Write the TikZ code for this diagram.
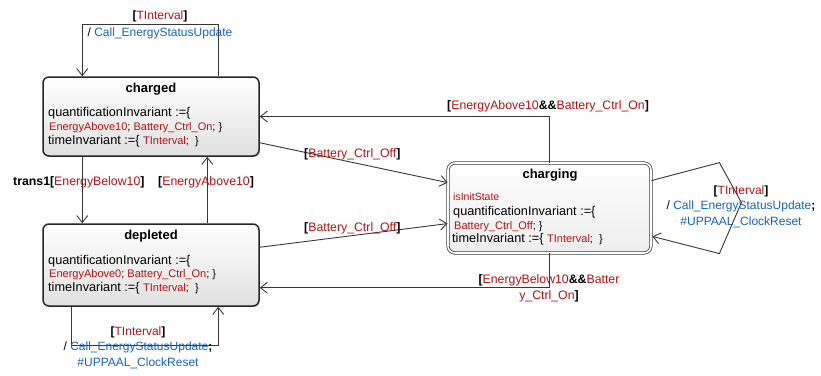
\documentclass[tikz,border=0pt]{standalone}
\usepackage{fontspec}
\setmainfont{Liberation Sans}
\usetikzlibrary{arrows.meta,calc,shadows}
\definecolor{gred}{RGB}{175,20,20}
\definecolor{gblue}{RGB}{25,100,185}
\definecolor{gline}{RGB}{55,55,55}
\newcommand{\rd}[1]{\textcolor{gred}{#1}}
\newcommand{\bl}[1]{\textcolor{gblue}{#1}}
\newcommand{\bb}[1]{\textbf{#1}}
\tikzset{
  statebox/.style={rectangle, rounded corners=6pt, line width=1.5pt, draw=black!85,
    top color=white, bottom color=black!12, inner sep=0pt,
    drop shadow={shadow xshift=1.2pt, shadow yshift=-1.2pt, opacity=0.25}},
  initbox/.style={rectangle, rounded corners=7pt, line width=0.8pt, draw=black!75,
    double=white, double distance=1.6pt, top color=white, bottom color=black!7, inner sep=0pt},
  ttl/.style={font=\fontsize{13}{15}\selectfont\bfseries, inner sep=0pt},
  bodyline/.style={font=\fontsize{12.7}{14}\selectfont, inner sep=0pt, anchor=base west},
  lbl/.style={font=\fontsize{12.3}{15}\selectfont, inner sep=0pt, align=center},
  arr/.style={draw=gline, line width=0.9pt, -{Straight Barb[length=7pt,width=11pt,line width=0.9pt]}},
}
\newcommand{\sm}[1]{{\fontsize{11}{14}\selectfont #1}}
\begin{document}
\begin{tikzpicture}[x=1pt,y=-1pt]
\useasboundingbox (0,0) rectangle (821,375);

% states
\node[statebox, minimum width=216pt, minimum height=79pt] (charged) at (151,116.5) {};
\node[statebox, minimum width=216pt, minimum height=82pt] (depleted) at (151,265) {};
\node[initbox, minimum width=203pt, minimum height=90pt] (charging) at (549.5,208) {};

% charged contents
\node[ttl] (chT) at (151,89) {charged};
\node[bodyline] (ch1) at (48,116) {quantificationInvariant :=\{};
\node[bodyline] (ch2) at (49,130) {\sm{\rd{EnergyAbove10}; \rd{Battery\_Ctrl\_On}; \}}};
\node[bodyline] (ch3) at (48,144) {timeInvariant :=\{ \sm{\rd{TInterval};\ \ \}}};

% depleted contents
\node[ttl] (deT) at (151,236) {depleted};
\node[bodyline] (de1) at (48,264) {quantificationInvariant :=\{};
\node[bodyline] (de2) at (49,277.5) {\sm{\rd{EnergyAbove0}; \rd{Battery\_Ctrl\_On}; \}}};
\node[bodyline] (de3) at (48,291) {timeInvariant :=\{ \sm{\rd{TInterval};\ \ \}}};

% charging contents
\node[ttl] (cgT) at (550,175) {charging};
\node[bodyline, font=\fontsize{10.5}{12}\selectfont] (cg0) at (453,200.5) {\rd{isInitState}};
\node[bodyline] (cg1) at (453,215) {quantificationInvariant :=\{};
\node[bodyline] (cg2) at (454,229) {\sm{\rd{Battery\_Ctrl\_Off}; \}}};
\node[bodyline] (cg3) at (452,242) {timeInvariant :=\{ \sm{\rd{TInterval};\ \ \}}};

% transitions
\draw[arr] ($(charged.north west)+(176,0)$) -- ++(0,-52) -| ($(charged.north west)+(40,0)$);
\draw[arr] ($(charged.south west)+(40,0)$) -- ($(depleted.north west)+(40,0)$);
\draw[arr] ($(depleted.north west)+(165,0)$) -- ($(charged.south west)+(165,0)$);
\draw[arr] (charging.north) |- (charged.east);
\draw[arr] (charging.south) |- ($(depleted.south east)+(0,-19)$);
\draw[arr] ($(charged.south east)+(0,-14)$) -- ($(charging.north west)+(0,20)$);
\draw[arr] ($(depleted.north east)+(0,24)$) -- ($(charging.north west)+(0,61)$);
\draw[arr] ($(charging.north east)+(0,18)$) -- ++(68,-18) -- ++(22,40) -- ++(-22,51) -- ($(charging.south east)+(1,-17)$);
\draw[arr] ($(depleted.south west)+(29,0)$) -- ++(0,39) -| ($(depleted.south west)+(176,0)$);

% labels
\node[lbl, font=\fontsize{12}{17}\selectfont] (l1) at (160,24.5) {\bb{[}\rd{TInterval}\bb{]}\\ / \bl{Call\_EnergyStatusUpdate}};
\node[lbl, anchor=west] (l2) at (13,182) {\bb{trans1[}\rd{EnergyBelow10}\bb{]}};
\node[lbl, anchor=west] (l3) at (158,182) {\bb{[}\rd{EnergyAbove10}\bb{]}};
\node[lbl, anchor=west] (l4) at (447,106) {\bb{[}\rd{EnergyAbove10}\bb{\&\&}\rd{Battery\_Ctrl\_On}\bb{]}};
\node[lbl, anchor=west] (l5) at (304,154) {\bb{[}\rd{Battery\_Ctrl\_Off}\bb{]}};
\node[lbl, anchor=west] (l6) at (304,228) {\bb{[}\rd{Battery\_Ctrl\_Off}\bb{]}};
\node[lbl, font=\fontsize{12.3}{16}\selectfont] (l7) at (549,288) {\bb{[}\rd{EnergyBelow10}\bb{\&\&}\rd{Batter}\\\rd{y\_Ctrl\_On}\bb{]}};
\node[lbl, font=\fontsize{12}{15.5}\selectfont] (l8) at (741,206.5) {\bb{[}\rd{TInterval}\bb{]}\\ / \bl{Call\_EnergyStatusUpdate}\bb{;}\\\bl{\#UPPAAL\_ClockReset}};
\node[lbl, font=\fontsize{12}{15.5}\selectfont] (l9) at (138,347.5) {\bb{[}\rd{TInterval}\bb{]}\\ / \bl{Call\_EnergyStatusUpdate}\bb{;}\\\bl{\#UPPAAL\_ClockReset}};
\end{tikzpicture}
\end{document}
